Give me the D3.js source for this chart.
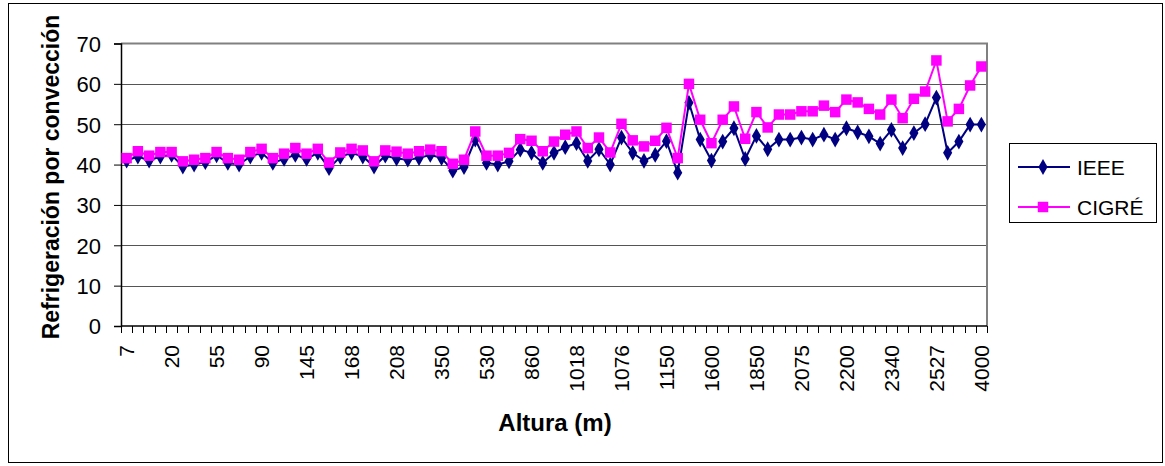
<!DOCTYPE html>
<html>
<head>
<meta charset="utf-8">
<script src="https://cdn.jsdelivr.net/npm/d3@7"></script>
<style>
  body { margin: 0; background: #fff; }
  svg { font-family: "Liberation Sans", Arial, sans-serif; }
</style>
</head>
<body>
<svg id="chart" width="1165" height="466"></svg>
<script>
// Refrigeración por convección vs altura (IEEE / CIGRÉ)
const tickLabels = ["7", "20", "55", "90", "145", "168", "208", "350", "530", "860",
  "1018", "1076", "1150", "1600", "1850", "2075", "2200", "2340", "2527", "4000"];
const labelEvery = 4;

const ieee = [
  41.0, 42.0, 41.0, 42.0, 42.4, 39.5, 40.0, 40.6, 42.3, 40.4,
  40.0, 42.0, 42.9, 40.4, 41.4, 42.4, 41.4, 42.9, 39.1, 41.9,
  42.9, 42.0, 39.5, 42.2, 41.5, 41.2, 41.6, 42.4, 41.6, 38.5,
  39.4, 46.2, 40.4, 40.0, 40.8, 43.7, 42.9, 40.4, 42.9, 44.3,
  45.3, 40.9, 43.8, 40.0, 46.7, 42.9, 40.9, 42.4, 45.8, 38.0,
  55.3, 46.2, 41.0, 45.7, 49.0, 41.4, 47.1, 43.8, 46.2, 46.2,
  46.7, 46.2, 47.4, 46.2, 49.0, 48.0, 47.0, 45.2, 48.6, 44.1,
  47.8, 50.0, 56.6, 42.9, 45.7, 49.9, 49.9
];

const cigre = [
  41.6, 43.3, 42.2, 43.1, 43.1, 40.8, 41.2, 41.6, 43.1, 41.6,
  41.2, 43.1, 43.9, 41.6, 42.7, 44.1, 42.7, 43.9, 40.5, 43.0,
  43.9, 43.5, 40.8, 43.5, 43.2, 42.7, 43.3, 43.7, 43.3, 40.2,
  41.2, 48.2, 42.2, 42.2, 42.9, 46.3, 45.9, 43.3, 45.7, 47.4,
  48.2, 44.1, 46.7, 43.0, 50.1, 46.0, 44.5, 45.9, 49.1, 41.6,
  60.0, 51.1, 45.3, 51.1, 54.4, 46.4, 53.0, 49.2, 52.4, 52.4,
  53.2, 53.2, 54.6, 53.0, 56.1, 55.4, 53.8, 52.4, 56.1, 51.5,
  56.3, 58.1, 65.8, 50.7, 53.8, 59.6, 64.3
];

const yTicks = [0, 10, 20, 30, 40, 50, 60, 70];

const svg = d3.select("#chart");
const plot = { left: 121, right: 987, top: 43.5, bottom: 326 };

// outer frame
svg.append("rect")
  .attr("x", 8.5).attr("y", 3.5)
  .attr("width", 1154).attr("height", 459)
  .attr("fill", "#fff").attr("stroke", "#000");

const idx = d3.range(ieee.length);
const x = d3.scaleBand().domain(idx).range([plot.left, plot.right]).padding(0);
const y = d3.scaleLinear().domain([0, 70]).range([plot.bottom, plot.top]);
const cx = i => x(i) + x.bandwidth() / 2;

// gridlines
svg.append("g").selectAll("line")
  .data(yTicks.filter(v => v > 0 && v < 70))
  .join("line")
  .attr("x1", plot.left).attr("x2", plot.right)
  .attr("y1", d => Math.round(y(d)) + 0.5).attr("y2", d => Math.round(y(d)) + 0.5)
  .attr("stroke", "#555").attr("stroke-width", 1);

// plot border (top/right gray)
svg.append("path")
  .attr("d", `M${plot.left},${plot.top}H${plot.right}V${plot.bottom}`)
  .attr("fill", "none").attr("stroke", "#808080").attr("stroke-width", 2);

// y axis
const yAxis = svg.append("g")
  .attr("transform", `translate(${plot.left},0)`)
  .call(d3.axisLeft(y).tickValues(yTicks).tickSize(7).tickPadding(13));
yAxis.select(".domain").attr("stroke", "#000").attr("stroke-width", 1.5);
yAxis.selectAll(".tick line").attr("stroke", "#000");
yAxis.selectAll(".tick text")
  .style("font-size", "22px").attr("fill", "#000").attr("dy", "0.36em");

// x axis: tick marks at category boundaries
const bounds = idx.map(i => x(i)).concat([plot.right]);
const xAxisG = svg.append("g").attr("transform", `translate(0,${plot.bottom})`);
xAxisG.append("line")
  .attr("x1", plot.left).attr("x2", plot.right)
  .attr("stroke", "#000").attr("stroke-width", 1.5);
xAxisG.selectAll("line.tk").data(bounds).join("line")
  .attr("class", "tk")
  .attr("x1", d => Math.round(d) + 0.5).attr("x2", d => Math.round(d) + 0.5)
  .attr("y1", 0).attr("y2", 7)
  .attr("stroke", "#000");

// x labels every 4th category
const xLab = svg.append("g")
  .attr("transform", `translate(0,${plot.bottom})`)
  .call(d3.axisBottom(x)
    .tickValues(idx.filter(i => i % labelEvery === 0))
    .tickSize(0)
    .tickFormat(i => tickLabels[i / labelEvery]));
xLab.select(".domain").remove();
xLab.selectAll(".tick text")
  .attr("transform", "rotate(-90)")
  .attr("x", -19).attr("y", 0).attr("dy", "0.36em")
  .style("text-anchor", "end")
  .style("font-size", "21px").attr("fill", "#000");

// series
const series = [
  { name: "IEEE", values: ieee, color: "#000080", symbol: d3.symbolDiamond, size: 72 },
  { name: "CIGRÉ", values: cigre, color: "#ff00ff", symbol: d3.symbolSquare, size: 110 }
];

const line = d3.line().x((d, i) => cx(i)).y(d => y(d));

series.forEach(s => {
  const g = svg.append("g");
  g.append("path")
    .datum(s.values)
    .attr("d", line)
    .attr("fill", "none")
    .attr("stroke", s.color)
    .attr("stroke-width", 2);
  g.selectAll("path.pt").data(s.values).join("path")
    .attr("class", "pt")
    .attr("transform", (d, i) => `translate(${cx(i)},${y(d)})`)
    .attr("d", d3.symbol().type(s.symbol).size(s.size))
    .attr("fill", s.color);
});

// y title
svg.append("text")
  .attr("transform", `translate(59,177) rotate(-90)`)
  .attr("text-anchor", "middle")
  .style("font-size", "23px").style("font-weight", "bold")
  .text("Refrigeración por convección");

// x title
svg.append("text")
  .attr("x", 555).attr("y", 431)
  .attr("text-anchor", "middle")
  .style("font-size", "24px").style("font-weight", "bold")
  .text("Altura (m)");

// legend
const legend = svg.append("g");
legend.append("rect")
  .attr("x", 1009.5).attr("y", 143.5)
  .attr("width", 147).attr("height", 79)
  .attr("fill", "#fff").attr("stroke", "#000");
series.forEach((s, k) => {
  const ly = 167 + k * 40;
  legend.append("line")
    .attr("x1", 1018).attr("x2", 1070).attr("y1", ly).attr("y2", ly)
    .attr("stroke", s.color).attr("stroke-width", 2);
  legend.append("path")
    .attr("transform", `translate(1043,${ly})`)
    .attr("d", d3.symbol().type(s.symbol).size(s.size))
    .attr("fill", s.color);
  legend.append("text")
    .attr("x", 1077).attr("y", ly).attr("dy", "0.36em")
    .style("font-size", "21px")
    .text(s.name);
});
</script>
</body>
</html>
